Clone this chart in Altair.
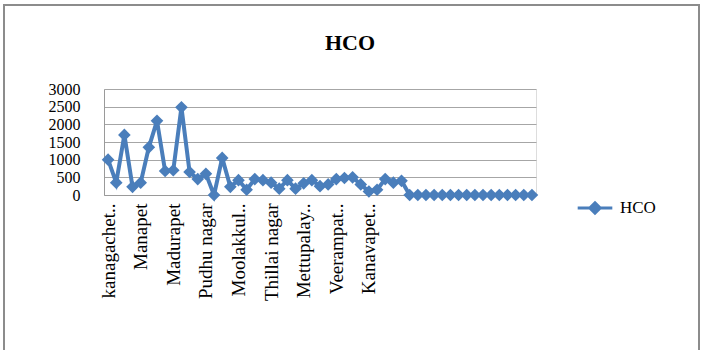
import altair as alt
import pandas as pd

# Values (HCO per site, in plot order)
hco = [1000, 350, 1700, 230, 350, 1350, 2100, 680, 700, 2480,
       650, 450, 600, 0, 1050, 230, 420, 150, 450, 420,
       350, 180, 420, 180, 330, 420, 250, 300, 450, 480,
       500, 300, 100, 150, 450, 350, 400, 0, 0, 0,
       0, 0, 0, 0, 0, 0, 0, 0, 0, 0,
       0, 0, 0]
# Visible category labels (every 4th site)
labels = ["kanagachet..", "Manapet", "Madurapet", "Pudhu nagar", "Moolakkul..",
          "Thillai nagar", "Mettupalay..", "Veerampat..", "Kanavapet.."]
label_step = 4
y_ticks = [0, 500, 1000, 1500, 2000, 2500, 3000]
series = "HCO"
title_text = "HCO"

df = pd.DataFrame({"idx": list(range(len(hco))), "value": hco, "series": series})

lab_arr = "[" + ",".join("'" + s + "'" for s in labels) + "]"
label_expr = (f"(datum.value % {label_step} == 0 && datum.value / {label_step} < {len(labels)}) "
              f"? {lab_arr}[datum.value / {label_step}] : ''")

BLUE = "#4a7ebb"
FONT = "Liberation Serif"

x = alt.X("idx:O", scale=alt.Scale(type="point", padding=0.5),
          axis=alt.Axis(title=None, labelExpr=label_expr, labelAngle=-90, labelOverlap=False,
                        labelFont=FONT, labelFontSize=19, labelColor="#000", ticks=False,
                        labelPadding=8, domainColor="#9a9a9a", grid=False))
y = alt.Y("value:Q", scale=alt.Scale(domain=[0, 3000], nice=False),
          axis=alt.Axis(title=None, values=y_ticks, format="d", labelFont=FONT, labelFontSize=16,
                        labelOverlap=False, labelColor="#000", ticks=False, labelPadding=24,
                        domainColor="#9a9a9a", gridColor="#a6a6a6"))

line = alt.Chart(df).mark_line(color=BLUE, strokeWidth=4).encode(x=x, y=y)
pts = alt.Chart(df).mark_point(shape="diamond", filled=True, size=160, opacity=1).encode(
    x=x, y=y,
    color=alt.Color("series:N", scale=alt.Scale(domain=[series], range=[BLUE]),
                    legend=alt.Legend(title=None, orient="none", legendX=472, legendY=100,
                                      symbolType="M-1,0L1,0M0,-0.3L0.3,0L0,0.3L-0.3,0Z",
                                      symbolSize=1200, symbolStrokeWidth=3,
                                      symbolStrokeColor=BLUE, symbolFillColor=BLUE,
                                      labelFont=FONT, labelFontSize=17, labelColor="#000",
                                      labelOffset=6)))

one = pd.DataFrame({"t": [title_text]})
frame = alt.Chart(one).mark_rect(
    fill=None, stroke="#8c8c8c", strokeWidth=2).encode(
    x=alt.value(-100), x2=alt.value(595), y=alt.value(-84), y2=alt.value(270))
title = alt.Chart(one).mark_text(font=FONT, fontSize=22, fontWeight="bold", color="#000",
                                 align="center", baseline="middle").encode(
    text="t:N", x=alt.value(246), y=alt.value(-46))

chart = alt.layer(frame, title, line, pts).properties(
    width=432, height=106,
    autosize=alt.AutoSizeParams(type="none"),
    padding={"left": 104, "top": 89, "right": 167, "bottom": 155},
).configure_view(stroke=None).configure(background="white")

chart.save("out.html", embed_options={"renderer": "svg", "actions": False})
